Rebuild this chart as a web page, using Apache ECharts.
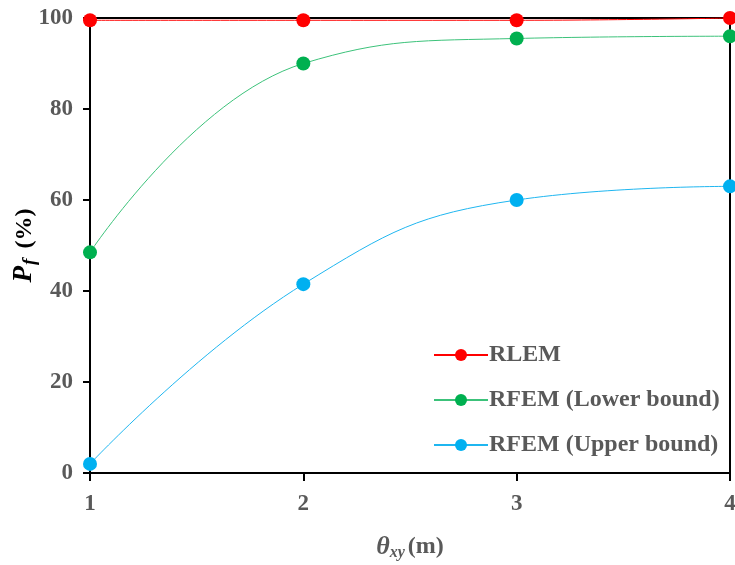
<!DOCTYPE html>
<html>
	<head>
		<meta charset="UTF-8">
		<title>Pf vs theta</title>
		<script src="https://cdn.jsdelivr.net/npm/echarts@6/dist/echarts.min.js"></script>
		<style>
			html, body {height: 100%; width: 100%; margin: 0px; background: #fff;}
			#chart {width: 735px; height: 565px;}
		</style>
	</head>
	<body>
		<div id="chart"></div>
		<script>
			const thetaXY = [1, 2, 3, 4];
			const rlem = [99.5, 99.5, 99.5, 100];
			const rfemLower = [48.5, 90, 95.5, 96];
			const rfemUpper = [2, 41.5, 60, 63];

			const font = 'Liberation Serif, Times New Roman, serif';
			const grey = '#595959';

			function pairs(ys) {
				return thetaXY.map((x, i) => [x, ys[i]]);
			}

			function makeSeries(name, ys, lineColor, dotColor) {
				return {
					name: name,
					type: 'line',
					smooth: 0.45,
					data: pairs(ys),
					symbol: 'circle',
					symbolSize: 14,
					clip: false,
					lineStyle: {color: lineColor, width: 1},
					itemStyle: {color: dotColor}
				};
			}

			const chart = echarts.init(document.getElementById('chart'));
			chart.setOption({
				animation: false,
				grid: {left: 90, right: 5, top: 18, bottom: 92, show: true, borderColor: '#000', borderWidth: 2, outerBoundsMode: 'none', containLabel: false},
				legend: {
					orient: 'vertical',
					left: 428,
					top: 338,
					itemGap: 21,
					itemWidth: 54,
					itemHeight: 15,
					textStyle: {fontFamily: font, fontWeight: 'bold', fontSize: 24, color: grey, padding: [0, 0, 0, -4]},
					data: ['RLEM', 'RFEM (Lower bound)', 'RFEM (Upper bound)']
				},
				xAxis: {
					type: 'value',
					min: 1,
					max: 4,
					interval: 1,
					splitLine: {show: false},
					axisLine: {lineStyle: {color: '#000', width: 2}},
					axisTick: {length: 8, lineStyle: {color: '#000', width: 2}},
					axisLabel: {margin: 20, fontFamily: font, fontWeight: 'bold', fontSize: 23, color: grey},
					name: '{t|θ}{s|xy}{n|(m)}',
					nameLocation: 'middle',
					nameGap: 60,
					nameMoveOverlap: false,
					nameTextStyle: {
						rich: {
							t: {fontFamily: font, fontStyle: 'italic', fontWeight: 'bold', fontSize: 26, color: grey},
							s: {fontFamily: font, fontStyle: 'italic', fontWeight: 'bold', fontSize: 16, color: grey, padding: [12, 3, 0, 0]},
							n: {fontFamily: font, fontWeight: 'bold', fontSize: 24, color: grey}
						}
					}
				},
				yAxis: {
					type: 'value',
					min: 0,
					max: 100,
					interval: 20,
					splitLine: {show: false},
					axisLine: {lineStyle: {color: '#000', width: 2}},
					axisTick: {length: 7, lineStyle: {color: '#000', width: 2}},
					axisLabel: {margin: 17, fontFamily: font, fontWeight: 'bold', fontSize: 23, color: grey},
					name: '{p|P}{s|f}{n|(%)}',
					nameLocation: 'middle',
					nameGap: 50,
					nameMoveOverlap: false,
					nameRotate: 90,
					nameTextStyle: {
						rich: {
							p: {fontFamily: font, fontStyle: 'italic', fontWeight: 'bold', fontSize: 27, color: '#000'},
							s: {fontFamily: font, fontStyle: 'italic', fontWeight: 'bold', fontSize: 19, color: '#000', padding: [12, 10, 0, 1]},
							n: {fontFamily: font, fontWeight: 'bold', fontSize: 24, color: '#000'}
						}
					}
				},
				series: [
					makeSeries('RLEM', rlem, '#ff0000', '#ff0000'),
					makeSeries('RFEM (Lower bound)', rfemLower, '#3cc27a', '#00b050'),
					makeSeries('RFEM (Upper bound)', rfemUpper, '#1fb6f0', '#00b0f0')
				]
			});
		</script>
	</body>
</html>
